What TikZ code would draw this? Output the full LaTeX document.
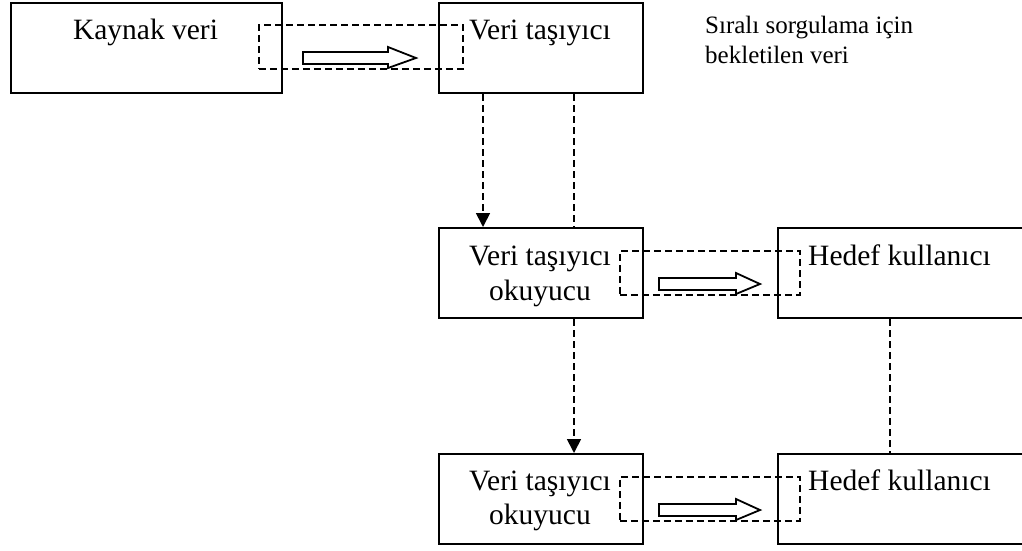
\documentclass[tikz,border=0pt]{standalone}
\usepackage{fontspec}
\setmainfont{Liberation Serif}
\usetikzlibrary{arrows.meta}
\begin{document}
\begin{tikzpicture}[x=1pt,y=-1pt,
  box/.style={draw,line width=2.1pt,inner sep=0pt,anchor=north west},
  dbox/.style={draw,line width=1.7pt,dash pattern=on 7pt off 4pt,inner sep=0pt,anchor=north west,minimum width=#1,minimum height=44pt},
  txt/.style={inner sep=0pt,anchor=base,font=\fontsize{29.5pt}{34pt}\selectfont},
  ltxt/.style={inner sep=0pt,anchor=base west,font=\fontsize{29.5pt}{34pt}\selectfont},
  note/.style={inner sep=0pt,anchor=base west,font=\fontsize{25pt}{30pt}\selectfont},
  conn/.style={line width=1.7pt,dash pattern=on 7pt off 4pt},
  darrow/.style={conn,-{Triangle[width=14pt,length=14pt]}},
  hollow/.style={draw,fill=white,line width=1.8pt,line join=miter}]
\useasboundingbox (0,0) rectangle (1022,550);
% boxes
\node[box,minimum width=271pt,minimum height=90pt] (b1) at (10,2) {};
\node[box,minimum width=204pt,minimum height=90pt] (b2) at (438,2) {};
\node[box,minimum width=204pt,minimum height=90pt] (b3) at (438,227) {};
\node[box,minimum width=247pt,minimum height=90pt] (b4) at (777,227) {};
\node[box,minimum width=204pt,minimum height=90pt] (b5) at (438,453) {};
\node[box,minimum width=247pt,minimum height=90pt] (b6) at (777,453) {};
% texts
\node[txt] (t1) at (145.5,39) {Kaynak veri};
\node[txt] (t2) at (540,39) {Veri taşıyıcı};
\node[txt] (t3a) at (540,265) {Veri taşıyıcı};
\node[txt] (t3b) at (540,300) {okuyucu};
\node[ltxt] (t4) at (808,265) {Hedef kullanıcı};
\node[txt] (t5a) at (540,490) {Veri taşıyıcı};
\node[txt] (t5b) at (540,524) {okuyucu};
\node[ltxt] (t6) at (808,490) {Hedef kullanıcı};
\node[note] (n1) at (705,33) {Sıralı sorgulama için};
\node[note] (n2) at (705,63) {bekletilen veri};
% dashed regions
\node[dbox=204pt] (d1) at (258,24) {};
\node[dbox=180pt] (d2) at (619,250) {};
\node[dbox=180pt] (d3) at (619,476) {};
% hollow arrows
\draw[hollow] ([xshift=45pt,yshift=-28pt]d1.north west) coordinate (h1)
  -- ++(85,0) -- ++(0,-5) -- ++(28,11) -- ++(-28,10) -- ++(0,-4) -- ++(-85,0) -- cycle;
\draw[hollow] ([xshift=40pt,yshift=-28pt]d2.north west) coordinate (h2)
  -- ++(77,0) -- ++(0,-5) -- ++(24,11) -- ++(-24,10) -- ++(0,-4) -- ++(-77,0) -- cycle;
\draw[hollow] ([xshift=40pt,yshift=-28pt]d3.north west) coordinate (h3)
  -- ++(77,0) -- ++(0,-5) -- ++(24,11) -- ++(-24,10) -- ++(0,-4) -- ++(-77,0) -- cycle;
% vertical connectors
\draw[darrow] ([xshift=45pt]b2.south west) -- ([xshift=45pt]b3.north west);
\draw[conn] ([xshift=136pt]b2.south west) -- ([xshift=136pt]b3.north west);
\draw[darrow] ([xshift=136pt]b3.south west) -- ([xshift=136pt]b5.north west);
\draw[conn] ([xshift=113pt]b4.south west) -- ([xshift=113pt]b6.north west);
\end{tikzpicture}
\end{document}
